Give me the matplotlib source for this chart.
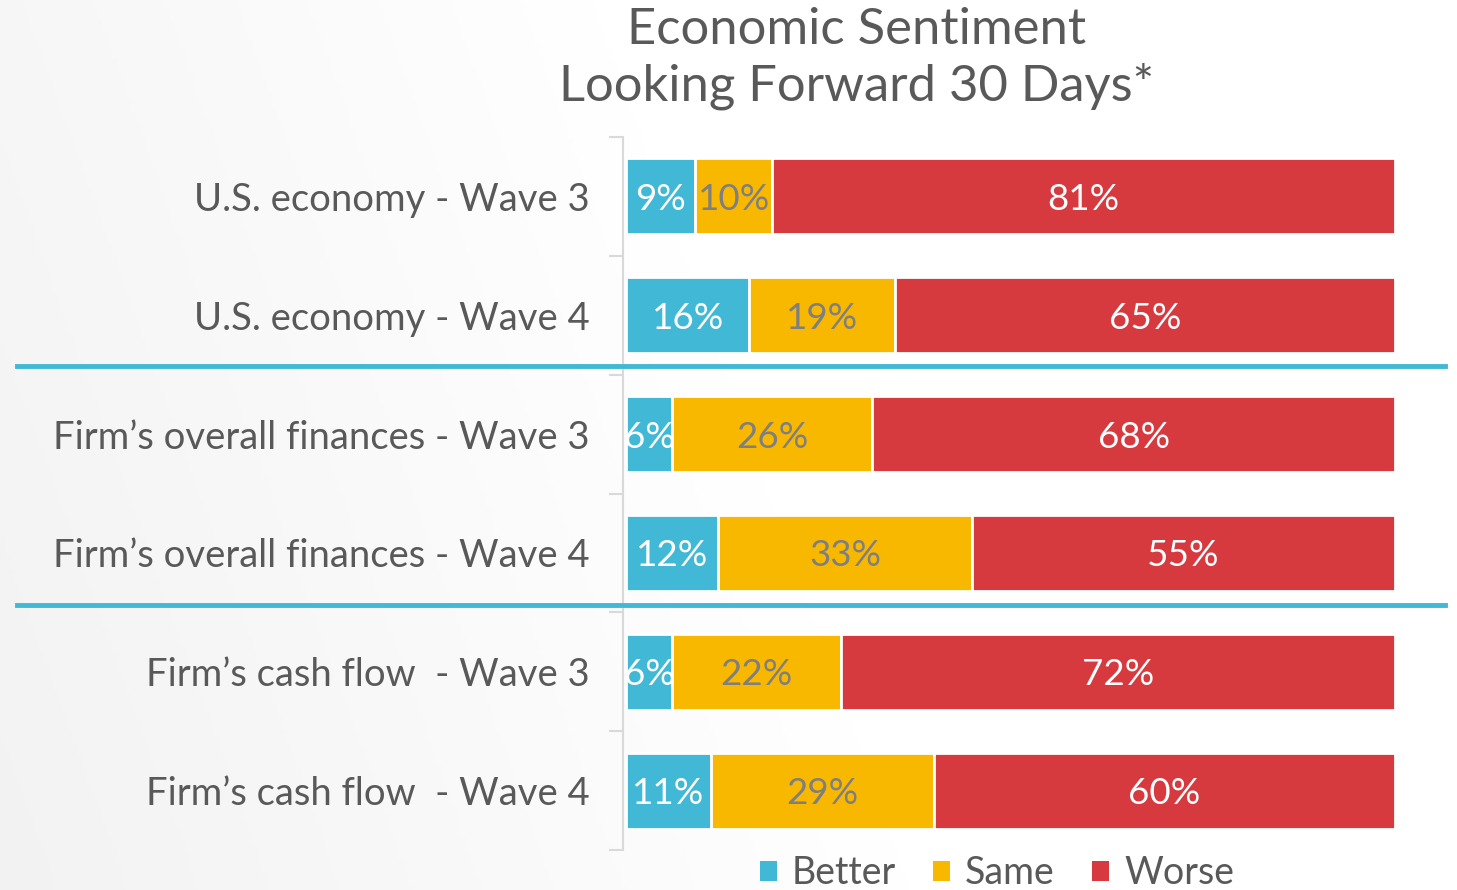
import matplotlib.pyplot as plt
import numpy as np

categories = ["U.S. economy - Wave 3", "U.S. economy - Wave 4",
              "Firm\u2019s overall finances - Wave 3", "Firm\u2019s overall finances - Wave 4",
              "Firm\u2019s cash flow  - Wave 3", "Firm\u2019s cash flow  - Wave 4"]
better = [9, 16, 6, 12, 6, 11]
same = [10, 19, 26, 33, 22, 29]
worse = [81, 65, 68, 55, 72, 60]
series_names = ["Better", "Same", "Worse"]

colors = ["#41B8D5", "#F9B800", "#D6393E"]
label_colors = ["white", "#7F7F7F", "white"]
text_color = "#595959"

plt.rcParams['font.family'] = ['Lato', 'DejaVu Sans']

fig = plt.figure(figsize=(14.57, 8.9), dpi=100)

# background gradient (light grey on the left fading to white)
bg = fig.add_axes([0, 0, 1, 1], zorder=-10)
xx, yy = np.meshgrid(np.linspace(0, 1, 300), np.linspace(0, 1, 200))
g = np.clip(xx * 1.6 + (1 - yy) * 0.35, 0, 1)
shade = 0.95 + 0.05 * g
bg.imshow(np.dstack([shade, shade, shade]), aspect='auto', extent=[0, 1, 0, 1])
bg.axis('off')

ax = fig.add_axes([623 / 1457, 1 - 850 / 890, (1395 - 623) / 1457, (850 - 137) / 890])
ax.patch.set_alpha(0)

y = np.arange(len(categories))
left = np.zeros(len(categories))
for vals, name, c, lc in zip([better, same, worse], series_names, colors, label_colors):
    bars = ax.barh(y, vals, left=left, height=0.64, color=c, edgecolor="white",
                   linewidth=2, label=name)
    for yi, l, v in zip(y, left, vals):
        ax.text(l + v / 2, yi, f"{v}%", ha="center", va="center_baseline", color=lc,
                fontsize=26.5, clip_on=True)
    left += np.array(vals)

ax.set_xlim(-0.4, 100)
ax.set_ylim(len(categories) - 0.5, -0.5)
ax.set_xticks([])
ax.set_yticks(y)
ax.set_yticklabels(categories, fontsize=27.5, color=text_color)
ax.tick_params(axis='y', which='major', length=0, pad=24)
ax.set_yticks(np.arange(-0.5, len(categories)), minor=True)
ax.tick_params(axis='y', which='minor', length=10, color="#D9D9D9", width=1.5)
for s in ["top", "right", "bottom"]:
    ax.spines[s].set_visible(False)
ax.spines["left"].set_color("#D9D9D9")
ax.spines["left"].set_linewidth(1.5)

# blue separators between groups
for yp in [366, 605]:
    fig.add_artist(plt.Line2D([17 / 1457, 1445 / 1457], [1 - yp / 890, 1 - yp / 890],
                              color="#41B8D5", linewidth=3.5))

fig.text(857 / 1457, 1 - 58 / 890, "Economic Sentiment\nLooking Forward 30 Days*",
         ha="center", va="center", fontsize=36.5, color=text_color, linespacing=1.25)

leg = fig.legend(loc="center", bbox_to_anchor=(997 / 1457, 1 - 873 / 890), ncol=3,
                 frameon=False, fontsize=27, handlelength=0.45, handleheight=0.45,
                 handletextpad=0.4, columnspacing=1.0)
for t in leg.get_texts():
    t.set_color(text_color)
for h in leg.legend_handles:
    h.set_linewidth(0)

fig.savefig("out.png", dpi=100)
